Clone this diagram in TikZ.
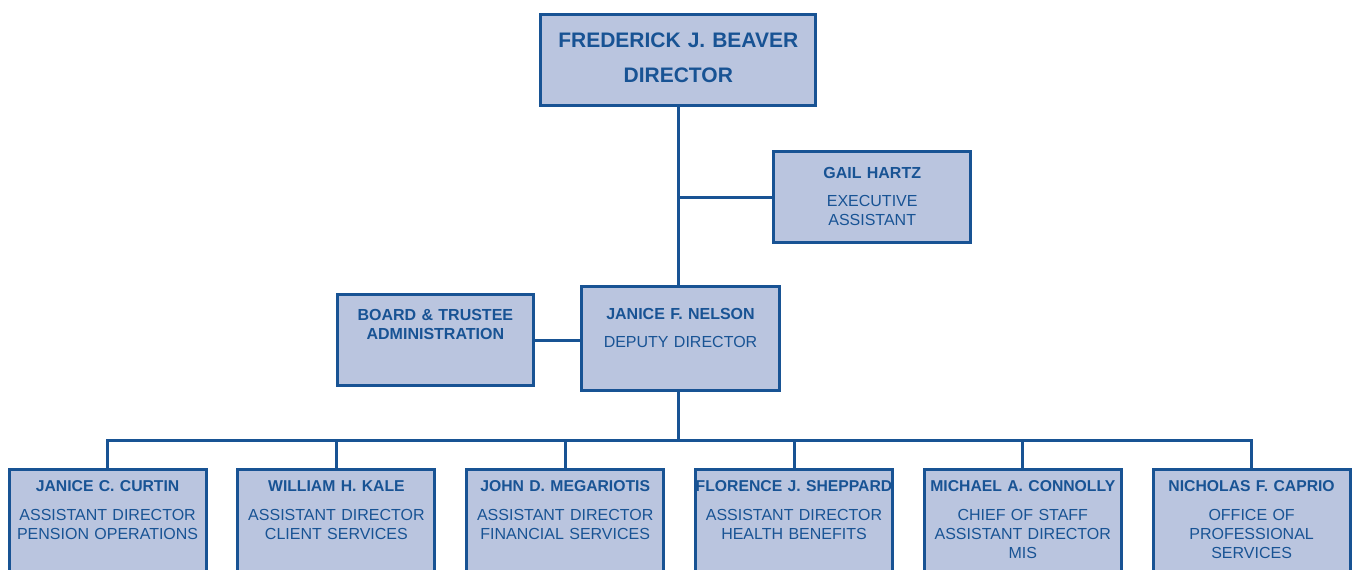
\documentclass[tikz,border=0pt]{standalone}
\usepackage{fontspec}
\setmainfont{Liberation Sans}
\usetikzlibrary{positioning}
\definecolor{chartblue}{RGB}{24,83,148}
\definecolor{chartfill}{RGB}{186,197,223}
\tikzstyle{box} = [draw=chartblue, fill=chartfill, rectangle, line width=2.25pt,
    inner sep=0pt, outer sep=0pt, align=center, text=chartblue,
    font=\fontsize{12}{14.25}\selectfont]
\tikzstyle{unit} = [box, text width=147.75pt, text height=16.7pt, text depth=81.55pt]
\tikzstyle{link} = [draw=chartblue, line width=2.25pt]
\newcommand{\nm}[1]{\makebox[\linewidth]{\fontsize{11.8}{14.25}\selectfont\textbf{#1}}\\[7.5pt]}

\begin{document}
\begin{tikzpicture}[x=0.75pt, y=-0.75pt, node distance=171.6pt]
    \useasboundingbox (0,0) rectangle (1353,569);
    \clip (0,0) rectangle (1353,569);
    \node [box, text width=206.25pt, text height=25.1pt, text depth=43.6pt,
        font=\bfseries\fontsize{15.75}{26.25}\selectfont] (dir) at (678.3,60) {FREDERICK J. BEAVER\\DIRECTOR};
    \node [box, text width=148pt, text height=20.25pt, text depth=48.2pt] (gail) at (872.2,197.2)
        {\textbf{GAIL HARTZ}\\[6.75pt]EXECUTIVE\\ASSISTANT};
    \node [box, text width=148.5pt, text height=24.4pt, text depth=53.6pt] (nelson) at (680.5,338.5)
        {\textbf{JANICE F. NELSON}\\[6.75pt]DEPUTY DIRECTOR};
    \node [box, text width=147.2pt, text height=18.9pt, text depth=48.9pt] (board) at (435.35,340)
        {\textbf{BOARD \& TRUSTEE}\\\textbf{ADMINISTRATION}};
    \node [unit] (curtin) at (107.6,534.5) {\nm{JANICE C. CURTIN}ASSISTANT DIRECTOR\\PENSION OPERATIONS};
    \node [unit, right of=curtin] (kale) {\nm{WILLIAM H. KALE}ASSISTANT DIRECTOR\\CLIENT SERVICES};
    \node [unit, right of=kale] (megariotis) {\nm{JOHN D. MEGARIOTIS}ASSISTANT DIRECTOR\\FINANCIAL SERVICES};
    \node [unit, right of=megariotis] (sheppard) {\nm{FLORENCE J. SHEPPARD}ASSISTANT DIRECTOR\\HEALTH BENEFITS};
    \node [unit, right of=sheppard] (connolly) {\nm{MICHAEL A. CONNOLLY}CHIEF OF STAFF\\ASSISTANT DIRECTOR\\MIS};
    \node [unit, right of=connolly] (caprio) {\nm{NICHOLAS F. CAPRIO}OFFICE OF\\PROFESSIONAL\\SERVICES};
    \coordinate (bus) at (678.3,440.3);
    \draw [link] (dir.south) -- (dir.south |- nelson.north);
    \draw [link] (gail.west) -- (gail.west -| dir.south);
    \draw [link] (board.east) -- (board.east -| nelson.west);
    \draw [link] (dir.south |- nelson.south) -- (bus);
    \draw [link] (curtin.north) |- (bus) -| (caprio.north);
    \foreach \n in {kale, megariotis, sheppard, connolly}
        \draw [link] (\n.north) -- (\n.north |- bus);
\end{tikzpicture}
\end{document}
